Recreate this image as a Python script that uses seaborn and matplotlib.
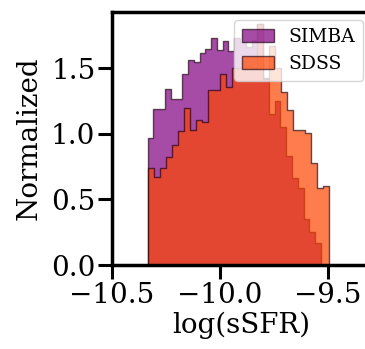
import numpy as np
import pandas as pd
import matplotlib
matplotlib.use("Agg")
import matplotlib.pyplot as plt
import seaborn as sns

# ---- data ----
simba_range = (-10.335, -9.531)
simba_heights = [0.97, 1.19, 1.19, 1.34, 1.265, 1.265, 1.455, 1.565, 1.55, 1.62,
                 1.65, 1.73, 1.64, 1.71, 1.63, 1.73, 1.70, 1.66, 1.72, 1.84,
                 1.43, 1.15, 1.25, 1.05, 0.83, 0.66, 0.585, 0.35, 0.25, 0.17]
sdss_range = (-10.335, -9.492)
sdss_heights = [0.743, 0.674, 0.743, 0.827, 0.916, 1.02, 1.20, 1.03, 1.107, 1.09,
                1.336, 1.336, 1.46, 1.36, 1.50, 1.50, 1.52, 1.50, 1.84, 1.42,
                1.67, 1.50, 1.32, 1.18, 1.03, 1.03, 1.01, 0.776, 0.585, 0.60]
labels = ["SIMBA", "SDSS"]
colors = ["purple", "orangered"]
xticks = [-10.5, -10.0, -9.5]
yticks = [0.0, 0.5, 1.0, 1.5]

sns.set_style("ticks", {"axes.edgecolor": "black", "xtick.color": "black",
                        "ytick.color": "black", "text.color": "black",
                        "axes.labelcolor": "black"})
plt.rcParams["font.family"] = ["DejaVu Serif"]
plt.rcParams["mathtext.fontset"] = "dejavuserif"

fig = plt.figure(figsize=(3.65, 3.49), dpi=100)
ax = fig.add_axes([112 / 365, 84 / 349, 259.4 / 365, 253 / 349])

for heights, rng, lab, col in zip([simba_heights, sdss_heights],
                                  [simba_range, sdss_range], labels, colors):
    n = len(heights)
    edges = np.linspace(rng[0], rng[1], n + 1)
    centers = 0.5 * (edges[:-1] + edges[1:])
    df = pd.DataFrame({"x": centers, "w": heights})
    sns.histplot(data=df, x="x", weights="w", bins=n, binrange=rng,
                 element="step", fill=True, color=col, alpha=0.7,
                 edgecolor=(0.1, 0.0, 0.05, 0.65), linewidth=1.0, label=lab, ax=ax)

ax.set_xlim(-10.5, -9.297)
ax.set_ylim(0, 1.93)
ax.set_xticks(xticks)
ax.set_yticks(yticks)
ax.set_xlabel("log(sSFR)", fontsize=20, labelpad=2)
ax.set_ylabel("Normalized", fontsize=20, labelpad=6)
ax.tick_params(axis="both", labelsize=20, length=10, width=2.2, pad=2,
               color="black", labelcolor="black")
for s in ax.spines.values():
    s.set_linewidth(2.5)
    s.set_color("black")
ax.legend(loc="upper right", fontsize=13.5, framealpha=0.8,
          handlelength=1.7, borderaxespad=0.45)

fig.savefig("out.png", dpi=100)
